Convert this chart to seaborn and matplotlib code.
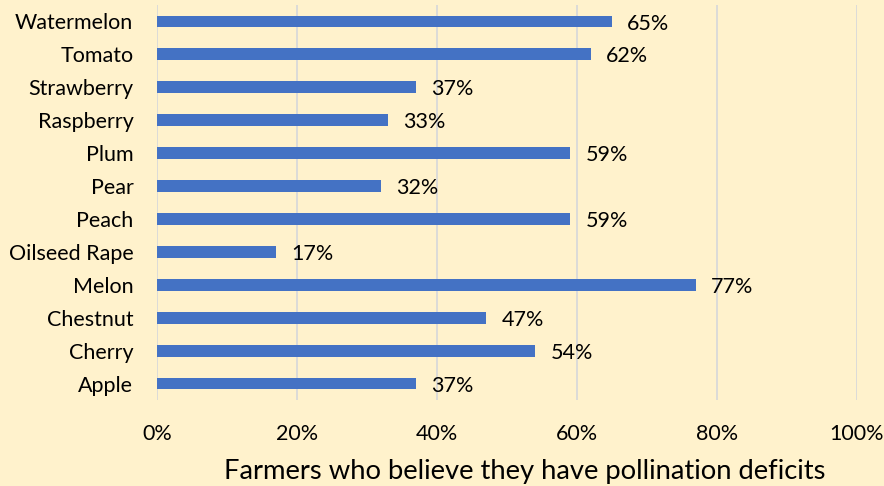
import matplotlib.pyplot as plt
import pandas as pd
import seaborn as sns

crops = ["Watermelon", "Tomato", "Strawberry", "Raspberry", "Plum", "Pear",
         "Peach", "Oilseed Rape", "Melon", "Chestnut", "Cherry", "Apple"]
deficit_pct = [65, 62, 37, 33, 59, 32, 59, 17, 77, 47, 54, 37]
x_ticks = [0, 20, 40, 60, 80, 100]

bg = "#FFF2CC"
bar_color = "#4472C4"

sns.set_theme(style="white")
plt.rcParams["font.family"] = ["Lato", "DejaVu Sans"]

df = pd.DataFrame({"crop": crops, "pct": deficit_pct})

fig = plt.figure(figsize=(8.84, 4.86), dpi=100, facecolor=bg)
ax = fig.add_axes([0.1776, 0.177, 0.7919, 0.8127])
ax.set_facecolor(bg)

sns.barplot(data=df, x="pct", y="crop", order=crops, color=bar_color,
            width=0.36, saturation=1, errorbar=None, linewidth=0, ax=ax)

ax.set_xlim(0, 100)
ax.set_ylim(len(crops) - 0.5, -0.5)
ax.set_xticks(x_ticks)
ax.set_xticklabels([f"{t}%" for t in x_ticks])
ax.grid(axis="x", color="#D9D9D9", linewidth=1.3)
ax.set_axisbelow(True)
for s in ax.spines.values():
    s.set_visible(False)

ax.tick_params(axis="x", length=0, pad=17, labelsize=15.5, colors="black")
ax.tick_params(axis="y", length=0, pad=17, labelsize=15.5, colors="black")
ax.set_ylabel(None)
ax.set_xlabel("Farmers who believe they have pollination deficits",
              fontsize=19.7, color="black", labelpad=11)
ax.xaxis.label.set_x(0.525)

for i, v in enumerate(deficit_pct):
    ax.annotate(f"{v}%", xy=(v, i), xytext=(11, -1.5), textcoords="offset points",
                va="center", ha="left", fontsize=15.5, color="black")

fig.savefig("out.png", dpi=100, facecolor=bg)
